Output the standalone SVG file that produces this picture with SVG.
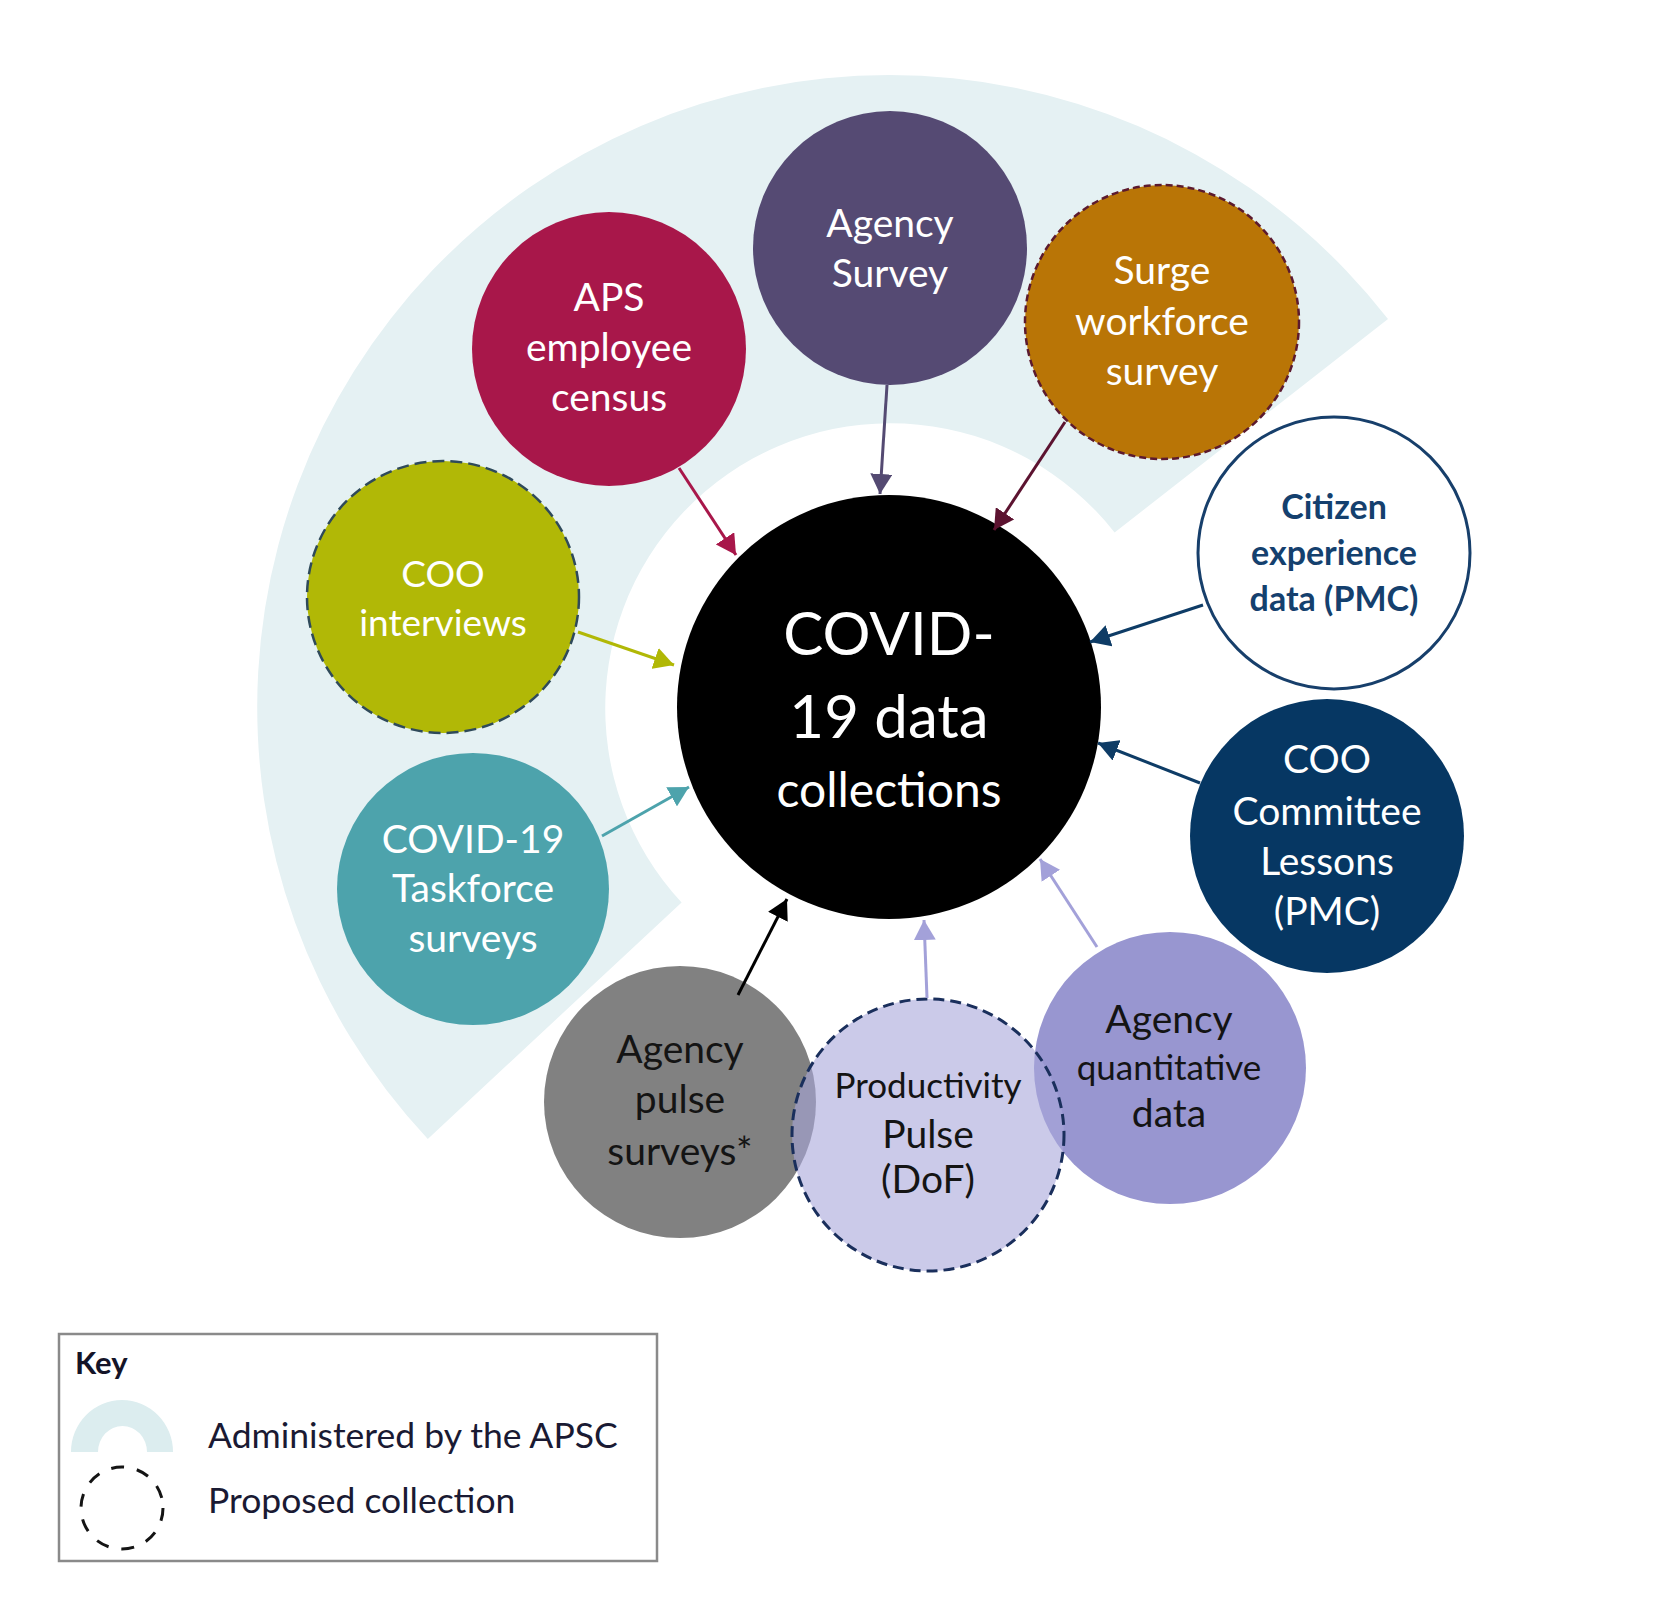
<svg xmlns="http://www.w3.org/2000/svg" width="1675" height="1622" viewBox="0 0 1675 1622">
<style>
text{font-family:Lato,"Liberation Sans",sans-serif;text-anchor:middle}
.w{fill:#ffffff}
.d{fill:#141414}
.n{fill:#14406e;font-weight:bold}
.s{font-size:39px}
.conn line{stroke-width:3;fill:none}
</style>
<defs>
<marker id="aAPS" viewBox="0 0 20 22" refX="20" refY="11" markerWidth="20" markerHeight="22" markerUnits="userSpaceOnUse" orient="auto"><path d="M0,0 L20,11 L0,22 Z" fill="#a8174a"/></marker>
<marker id="aAS" viewBox="0 0 20 22" refX="20" refY="11" markerWidth="20" markerHeight="22" markerUnits="userSpaceOnUse" orient="auto"><path d="M0,0 L20,11 L0,22 Z" fill="#544a72"/></marker>
<marker id="aSW" viewBox="0 0 20 22" refX="20" refY="11" markerWidth="20" markerHeight="22" markerUnits="userSpaceOnUse" orient="auto"><path d="M0,0 L20,11 L0,22 Z" fill="#5c1330"/></marker>
<marker id="aNV" viewBox="0 0 20 22" refX="20" refY="11" markerWidth="20" markerHeight="22" markerUnits="userSpaceOnUse" orient="auto"><path d="M0,0 L20,11 L0,22 Z" fill="#0e3c66"/></marker>
<marker id="aLP" viewBox="0 0 20 22" refX="20" refY="11" markerWidth="20" markerHeight="22" markerUnits="userSpaceOnUse" orient="auto"><path d="M0,0 L20,11 L0,22 Z" fill="#a3a1d9"/></marker>
<marker id="aBK" viewBox="0 0 20 22" refX="20" refY="11" markerWidth="20" markerHeight="22" markerUnits="userSpaceOnUse" orient="auto"><path d="M0,0 L20,11 L0,22 Z" fill="#000000"/></marker>
<marker id="aTL" viewBox="0 0 20 22" refX="20" refY="11" markerWidth="20" markerHeight="22" markerUnits="userSpaceOnUse" orient="auto"><path d="M0,0 L20,11 L0,22 Z" fill="#4da3ac"/></marker>
<marker id="aOL" viewBox="0 0 20 22" refX="20" refY="11" markerWidth="20" markerHeight="22" markerUnits="userSpaceOnUse" orient="auto"><path d="M0,0 L20,11 L0,22 Z" fill="#b1b806"/></marker>
</defs>
<rect width="1675" height="1622" fill="#ffffff"/>
<g id="apsc-band">
<path d="M427.8 1139 A632 632 0 1 1 1388 319 L1114.6 532.5 A285 285 0 1 0 681.6 902.4 Z" fill="#e5f1f3"/>
</g>
<g id="node-center">
<circle cx="889" cy="707" r="212" fill="#000000"/>
<text class="w"><tspan x="889" y="655" font-size="60">COVID-</tspan><tspan x="889" y="738" font-size="60">19 data</tspan><tspan x="889" y="807" font-size="48">collections</tspan></text>
</g>
<g id="node-agency-survey">
<circle cx="890" cy="248" r="137" fill="#554a73"/>
<text class="w s"><tspan x="890" y="237">Agency</tspan><tspan x="890" y="287">Survey</tspan></text>
</g>
<g id="node-aps-census">
<circle cx="609" cy="349" r="137" fill="#a8174a"/>
<text class="w s"><tspan x="609" y="311">APS</tspan><tspan x="609" y="361">employee</tspan><tspan x="609" y="411">census</tspan></text>
</g>
<g id="node-surge">
<circle cx="1162" cy="322" r="137" fill="#b97506" stroke="#5c1a2e" stroke-width="2.5" stroke-dasharray="7 4"/>
<text class="w s"><tspan x="1162" y="284">Surge</tspan><tspan x="1162" y="335">workforce</tspan><tspan x="1162" y="385">survey</tspan></text>
</g>
<g id="node-citizen">
<circle cx="1334" cy="553" r="136" fill="#ffffff" stroke="#173f6b" stroke-width="3"/>
<text class="n" font-size="34"><tspan x="1334" y="519">Citizen</tspan><tspan x="1334" y="565">experience</tspan><tspan x="1334" y="611">data (PMC)</tspan></text>
</g>
<g id="node-coo-committee">
<circle cx="1327" cy="836" r="137" fill="#063763"/>
<text class="w s"><tspan x="1327" y="773">COO</tspan><tspan x="1327" y="825">Committee</tspan><tspan x="1327" y="875">Lessons</tspan><tspan x="1327" y="925">(PMC)</tspan></text>
</g>
<g id="node-agency-pulse">
<circle cx="680" cy="1102" r="136" fill="#818181"/>
<text class="d s"><tspan x="680" y="1063">Agency</tspan><tspan x="680" y="1113">pulse</tspan><tspan x="680" y="1165">surveys*</tspan></text>
</g>
<g id="node-agency-quant">
<circle cx="1170" cy="1068" r="136" fill="#9896d0"/>
<text class="d"><tspan x="1169" y="1033" font-size="39">Agency</tspan><tspan x="1169" y="1080" font-size="35">quantitative</tspan><tspan x="1169" y="1127" font-size="39">data</tspan></text>
</g>
<g id="node-productivity">
<circle cx="928" cy="1135" r="136" fill="#a9a7da" fill-opacity="0.6" stroke="#1a2f5c" stroke-width="3" stroke-dasharray="11 6"/>
<text class="d"><tspan x="928" y="1098" font-size="35">Productivity</tspan><tspan x="928" y="1148" font-size="39">Pulse</tspan><tspan x="928" y="1193" font-size="39">(DoF)</tspan></text>
</g>
<g id="node-taskforce">
<circle cx="473" cy="889" r="136" fill="#4da3ac"/>
<text class="w s"><tspan x="473" y="853">COVID-19</tspan><tspan x="473" y="902">Taskforce</tspan><tspan x="473" y="952">surveys</tspan></text>
</g>
<g id="node-coo-interviews">
<circle cx="443" cy="597" r="136" fill="#b1b806" stroke="#2f4a5a" stroke-width="2.5" stroke-dasharray="12 6"/>
<text class="w" font-size="37"><tspan x="443" y="587">COO</tspan><tspan x="443" y="636">interviews</tspan></text>
</g>
<g id="connectors" class="conn">
<line x1="679" y1="468" x2="736" y2="555" stroke="#a8174a" marker-end="url(#aAPS)"/>
<line x1="887" y1="385" x2="880" y2="494" stroke="#544a72" marker-end="url(#aAS)"/>
<line x1="1065" y1="422" x2="994" y2="530" stroke="#5c1330" marker-end="url(#aSW)"/>
<line x1="1203" y1="605" x2="1090" y2="642" stroke="#0e3c66" marker-end="url(#aNV)"/>
<line x1="1200" y1="783" x2="1098" y2="743" stroke="#0e3c66" marker-end="url(#aNV)"/>
<line x1="1097" y1="947" x2="1040" y2="859" stroke="#a3a1d9" marker-end="url(#aLP)"/>
<line x1="927" y1="998" x2="924" y2="920" stroke="#a3a1d9" marker-end="url(#aLP)"/>
<line x1="738" y1="995" x2="787" y2="899" stroke="#000000" marker-end="url(#aBK)"/>
<line x1="602" y1="836" x2="689" y2="787" stroke="#4da3ac" marker-end="url(#aTL)"/>
<line x1="578" y1="632" x2="674" y2="665" stroke="#b1b806" marker-end="url(#aOL)"/>
</g>
<g id="key">
<rect x="59" y="1334" width="598" height="227" fill="#ffffff" stroke="#8a8a8a" stroke-width="2.5"/>
<text x="75" y="1374" font-size="31" font-weight="bold" fill="#141428" style="text-anchor:start">Key</text>
<path d="M71 1452 A51 52 0 0 1 173 1452 L147 1452 A24.5 26 0 0 0 98 1452 Z" fill="#dcedef"/>
<circle cx="122" cy="1508" r="41" fill="none" stroke="#141414" stroke-width="3" stroke-dasharray="13 13"/>
<text x="208" y="1448" font-size="35.5" fill="#1a1a33" style="text-anchor:start">Administered by the APSC</text>
<text x="208" y="1513" font-size="35.5" fill="#1a1a33" style="text-anchor:start">Proposed collection</text>
</g>
</svg>
